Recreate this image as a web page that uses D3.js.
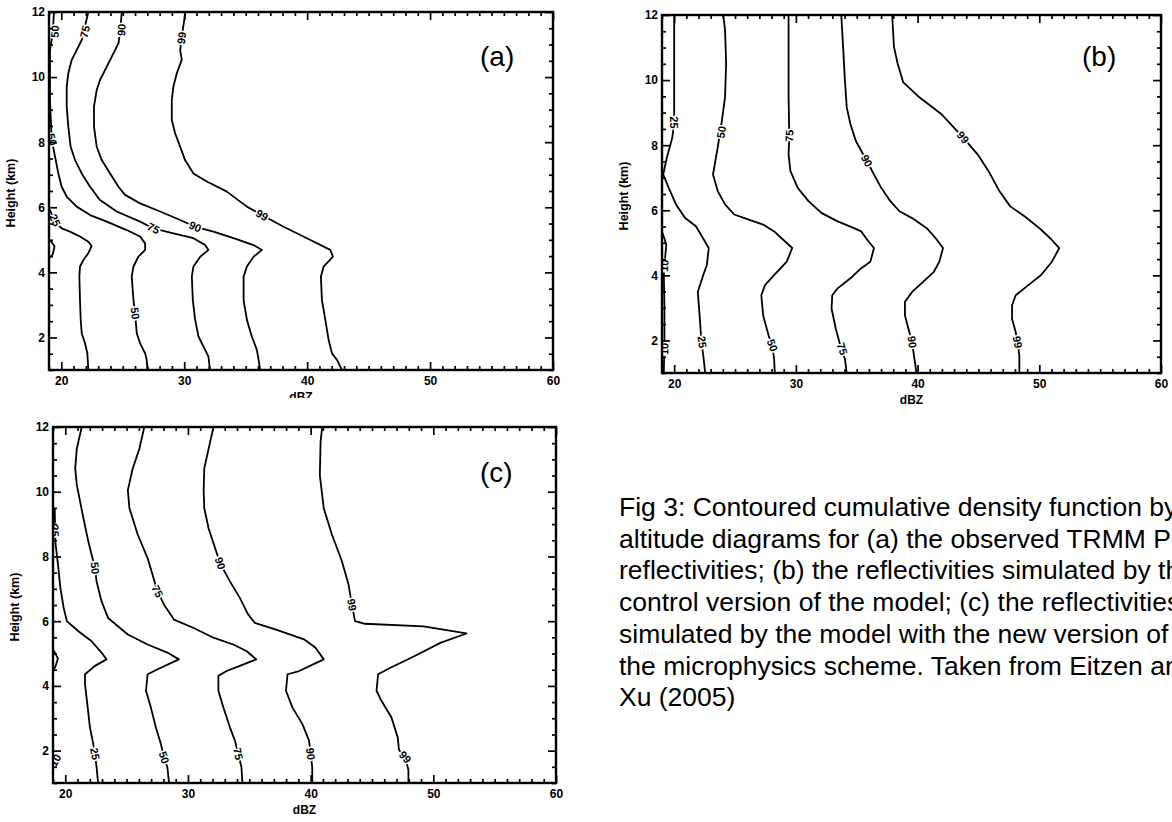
<!DOCTYPE html>
<html><head><meta charset="utf-8">
<script src="https://cdn.jsdelivr.net/npm/d3@7"></script>
<style>body{margin:0;background:#fff}svg{display:block}</style>
</head><body>
<svg id="chart" width="1172" height="822"></svg>
<script>
// ---------------- DATA (dBZ, height km) ----------------
const panelNames = ["(a)", "(b)", "(c)"];
const xMajorTicks = [20, 30, 40, 50, 60];
const yMajorTicks = [2, 4, 6, 8, 10, 12];
const xTitle = "dBZ";
const yTitle = "Height (km)";

// Panel (a): observed TRMM PR
const a10 = [[19.08,5.0],[19.45,4.8],[19.3,4.55],[19.08,4.45]];
const a25 = [[19.08,5.92],[19.49,5.56],[20.03,5.35],[20.71,5.25],[21.52,5.10],[22.2,4.94],[22.47,4.81],[22.2,4.59],[21.8,4.38],[21.52,4.18],[21.47,3.87],[21.52,3.15],[21.58,2.54],[21.66,2.13],[21.93,1.82],[22.12,1.51],[22.2,1.0]];
const a50 = [[19.41,12],[19.3,11.35],[19.08,10.83],[19.08,9.3],[19.22,8.07],[19.49,7.56],[19.76,7.04],[20.03,6.63],[20.44,6.33],[21.25,6.02],[22.34,5.76],[23.7,5.56],[25.32,5.30],[26.41,5.10],[26.82,4.89],[26.82,4.69],[26.27,4.48],[25.87,4.18],[25.73,3.87],[25.87,3.15],[26.0,2.74],[26.14,2.13],[26.41,1.82],[26.82,1.51],[26.95,1.31],[27.0,1.0]];
const a75 = [[22.2,12],[21.66,11.14],[21.25,10.83],[20.85,10.53],[20.57,10.12],[20.44,9.71],[20.44,9.09],[20.57,8.48],[20.76,7.86],[21.12,7.45],[21.66,7.04],[22.34,6.63],[23.15,6.22],[24.51,5.87],[26.41,5.56],[27.5,5.35],[29.12,5.20],[30.75,5.05],[31.7,4.84],[31.97,4.69],[31.3,4.48],[30.75,4.18],[30.62,3.87],[30.70,3.15],[30.89,2.54],[31.16,2.03],[31.57,1.72],[31.97,1.41],[32.1,1.0]];
const a90 = [[24.92,12],[24.78,11.35],[24.65,11.04],[24.24,10.73],[23.7,10.32],[23.15,9.91],[22.88,9.60],[22.66,9.09],[22.66,8.48],[22.88,7.86],[23.29,7.45],[23.97,7.04],[24.65,6.63],[25.19,6.38],[26.41,6.12],[28.04,5.87],[29.67,5.61],[30.89,5.40],[32.38,5.25],[34.01,5.05],[35.64,4.84],[36.32,4.69],[35.64,4.48],[35.1,4.18],[34.83,3.87],[34.83,3.15],[35.1,2.54],[35.5,2.03],[35.91,1.62],[36.05,1.31],[36.18,1.0]];
const a99 = [[30.1,12],[29.88,11.45],[29.67,10.83],[29.8,10.53],[29.4,10.12],[29.12,9.71],[28.99,9.30],[28.99,8.68],[29.26,8.27],[29.67,7.86],[30.07,7.45],[30.75,7.04],[31.84,6.79],[33.47,6.48],[35.1,6.02],[36.32,5.76],[38.08,5.40],[39.98,5.05],[41.88,4.69],[42.1,4.48],[41.34,4.18],[41.12,3.87],[41.2,3.15],[41.48,2.54],[41.75,1.92],[42.02,1.51],[42.43,1.31],[42.83,1.0]];
const aLabels = [["50",19.49,11.4,2],["75",21.93,11.4,3],["90",24.9,11.45,4],["99",29.8,11.2,5],["50",19.22,8.08,2],["25",19.49,5.6,1],["75",27.5,5.35,3],["90",30.89,5.40,4],["99",36.32,5.76,5],["50",26.0,2.74,2]];

// Panel (b): control model
const b10 = [[19.05,5.3],[19.35,4.95],[19.25,4.5],[19.15,4.0],[19.2,3.0],[19.2,2.0],[19.15,1.0]];
const b25 = [[20.0,12],[20.0,9.99],[20.0,9.16],[20.0,8.70],[19.85,8.24],[19.70,8.03],[19.40,7.62],[19.10,7.10],[19.55,6.69],[20.15,6.18],[20.9,5.76],[21.79,5.51],[22.84,4.84],[22.69,4.32],[22.39,4.01],[21.94,3.49],[22.09,2.77],[22.24,1.95],[22.39,1.54],[22.55,1.0]];
const b50 = [[24.03,12],[24.18,11.54],[24.27,10.51],[24.18,9.47],[23.88,8.65],[23.58,7.93],[23.19,7.10],[23.58,6.59],[24.18,6.18],[24.93,5.87],[26.12,5.71],[27.31,5.56],[28.21,5.35],[29.7,4.84],[29.25,4.42],[28.21,4.01],[27.46,3.70],[27.16,3.39],[27.31,2.77],[27.76,2.15],[28.06,1.85],[28.21,1.43],[28.27,1.0]];
const b75 = [[29.4,12],[29.4,11.02],[29.4,9.47],[29.46,8.29],[29.4,7.72],[29.55,7.21],[30.15,6.69],[31.04,6.28],[32.09,5.92],[33.43,5.66],[34.78,5.45],[35.37,5.35],[35.97,5.04],[36.42,4.84],[36.12,4.42],[35.37,4.22],[34.48,3.91],[33.43,3.60],[32.99,3.39],[32.93,2.98],[33.28,2.36],[33.73,1.74],[34.03,1.43],[34.18,1.0]];
const b90 = [[33.73,12],[33.88,11.02],[34.03,9.99],[34.18,9.16],[34.48,8.65],[34.93,8.13],[35.82,7.52],[36.42,7.10],[37.01,6.69],[37.76,6.28],[38.51,5.97],[39.55,5.76],[40.75,5.45],[41.49,5.14],[42.09,4.84],[41.79,4.42],[41.34,4.11],[40.45,3.80],[39.55,3.49],[38.96,3.19],[38.96,2.77],[39.25,2.36],[39.55,1.95],[39.7,1.54],[39.91,1.0]];
const b99 = [[37.91,12],[38.06,11.02],[38.36,10.51],[38.81,9.94],[40.15,9.47],[41.94,8.96],[43.73,8.24],[44.93,7.72],[45.82,7.21],[46.72,6.59],[47.61,6.12],[48.81,5.81],[50.0,5.45],[50.9,5.14],[51.64,4.84],[51.04,4.42],[50.15,4.01],[49.1,3.70],[48.06,3.39],[47.76,3.08],[47.76,2.67],[48.06,2.26],[48.21,1.95],[48.36,1.54],[48.36,1.0]];
const bLabels = [["25",20.0,8.7,1],["50",23.88,8.4,2],["75",29.46,8.29,3],["90",35.82,7.52,4],["99",43.73,8.24,5],["10",19.2,4.3,0],["10",19.2,1.74,0],["25",22.3,1.95,1],["50",28.06,1.85,2],["75",33.8,1.74,3],["90",39.55,1.95,4],["99",48.21,1.95,5]];

// Panel (c): new microphysics
const c10 = [[19.05,5.1],[19.4,4.85],[19.2,4.6],[19.05,4.5]];
const c25 = [[19.14,9.49],[19.19,8.46],[19.41,7.74],[19.6,7.03],[19.87,6.41],[20.13,6.0],[21.07,5.69],[22.15,5.38],[22.95,5.03],[23.36,4.82],[22.42,4.62],[21.61,4.36],[21.61,4.05],[21.83,3.33],[22.01,2.72],[22.28,2.21],[22.42,1.90],[22.55,1.49],[22.68,1.0]];
const c50 = [[21.34,12],[20.94,11.33],[20.81,10.72],[20.94,10.21],[21.48,9.18],[21.88,8.46],[22.42,7.64],[22.55,7.23],[22.95,6.62],[23.49,6.10],[25.1,5.59],[26.71,5.28],[28.32,5.03],[29.26,4.82],[27.79,4.56],[26.71,4.36],[26.58,3.85],[26.98,3.33],[27.38,2.72],[27.79,2.21],[28.05,1.79],[28.32,1.49],[28.46,1.0]];
const c75 = [[26.44,12],[26.04,11.33],[25.5,10.72],[25.1,10.05],[25.23,9.49],[25.91,8.67],[26.71,7.95],[27.52,6.92],[28.05,6.51],[28.86,6.05],[30.47,5.79],[32.08,5.49],[33.69,5.28],[34.77,5.08],[35.57,4.82],[34.23,4.62],[33.15,4.46],[32.48,4.31],[32.48,3.85],[32.89,3.33],[33.42,2.72],[33.83,2.31],[34.09,1.90],[34.36,1.49],[34.44,1.0]];
const c90 = [[32.08,12],[31.81,11.54],[31.33,10.72],[31.28,10.05],[31.33,9.49],[31.68,8.87],[32.21,8.26],[32.62,7.79],[33.42,7.23],[34.23,6.72],[34.9,6.21],[35.44,5.95],[37.18,5.74],[39.46,5.44],[40.4,5.18],[41.07,4.82],[39.06,4.46],[38.12,4.36],[37.99,3.85],[38.52,3.33],[39.33,2.82],[39.87,2.31],[40.0,1.90],[40.13,1.49],[40.13,1.0]];
const c99 = [[40.94,12],[40.81,11.54],[40.75,10.51],[41.07,9.49],[41.74,8.67],[42.55,7.85],[43.09,7.13],[43.36,6.51],[43.62,6.0],[44.43,5.92],[49.2,5.84],[52.7,5.62],[50.57,5.33],[48.4,4.91],[46.5,4.56],[45.5,4.36],[45.37,3.85],[45.77,3.54],[46.58,3.03],[47.1,2.41],[47.2,2.02],[47.7,1.81],[47.97,1.40],[47.97,1.0]];
const cLabels = [["25",19.15,8.8,1],["50",22.42,7.64,2],["75",27.52,6.92,3],["90",32.62,7.79,4],["99",43.36,6.51,5],["10",19.2,1.7,0],["25",22.42,1.9,1],["50",28.05,1.79,2],["75",34.09,1.9,3],["90",40.0,1.9,4],["99",47.7,1.8,5]];

const captionLines = [
  "Fig 3: Contoured cumulative density function by",
  "altitude diagrams for (a) the observed TRMM PR",
  "reflectivities; (b) the reflectivities simulated by the",
  "control version of the model; (c) the reflectivities",
  "simulated by the model with the new version of",
  "the microphysics scheme. Taken from Eitzen and",
  "Xu (2005)"
];

// ---------------- LAYOUT ----------------
const panels = [
  {name: panelNames[0], left: 49, right: 553, top: 12, bottom: 370, series: [a10,a25,a50,a75,a90,a99], labels: aLabels, tag: [480, 66], titleCut: 398},
  {name: panelNames[1], left: 662, right: 1161, top: 15, bottom: 373, series: [b10,b25,b50,b75,b90,b99], labels: bLabels, tag: [1082, 66]},
  {name: panelNames[2], left: 53, right: 556, top: 427, bottom: 783, series: [c10,c25,c50,c75,c90,c99], labels: cLabels, tag: [480, 482]}
];

const svg = d3.select("#chart");
svg.append("rect").attr("width", 1172).attr("height", 822).attr("fill", "#fff");
const FONT = "'Liberation Sans', Arial, Helvetica, sans-serif";

function range(a, b, s) { const r = []; for (let v = a; v <= b + 1e-9; v += s) r.push(+v.toFixed(3)); return r; }

panels.forEach((p, pi) => {
  const x = d3.scaleLinear().domain([19, 60]).range([p.left, p.right]);
  const y = d3.scaleLinear().domain([1, 12]).range([p.bottom, p.top]);
  const g = svg.append("g");
  const clipId = "clip" + pi;
  svg.append("clipPath").attr("id", clipId).append("rect")
    .attr("x", p.left).attr("y", p.top).attr("width", p.right - p.left).attr("height", p.bottom - p.top);

  // contour lines
  const line = d3.line().x(d => x(d[0])).y(d => y(d[1]));
  const lg = g.append("g").attr("clip-path", `url(#${clipId})`);
  p.series.forEach(s => {
    lg.append("path").attr("d", line(s)).attr("fill", "none")
      .attr("stroke", "#000").attr("stroke-width", 1.8).attr("stroke-linejoin", "round");
  });

  // contour labels
  p.labels.forEach(([t, dx, dh, si]) => {
    const s = p.series[si];
    const px = x(dx), py = y(dh);
    let best = 1e9, ang = 90;
    for (let i = 0; i < s.length - 1; i++) {
      const x1 = x(s[i][0]), y1 = y(s[i][1]), x2 = x(s[i+1][0]), y2 = y(s[i+1][1]);
      const mx = (x1 + x2) / 2, my = (y1 + y2) / 2;
      const dd = (mx - px) ** 2 + (my - py) ** 2;
      if (dd < best) { best = dd; ang = Math.atan2(y2 - y1, x2 - x1) * 180 / Math.PI; }
    }
    if (ang > 90) ang -= 180;
    if (ang < -90) ang += 180;
    lg.append("text").attr("transform", `translate(${px},${py}) rotate(${ang})`)
      .attr("text-anchor", "middle").attr("dy", "0.35em")
      .attr("font-family", FONT).attr("font-weight", "bold").attr("font-size", 11)
      .attr("stroke", "#fff").attr("stroke-width", 3).attr("paint-order", "stroke")
      .attr("fill", "#000").text(t);
  });

  // axes (inward ticks)
  const xMinor = range(19, 60, 1).filter(v => !xMajorTicks.includes(v));
  const yMinor = range(1, 12, 0.5).filter(v => !yMajorTicks.includes(v));
  const style = sel => { sel.select(".domain").remove(); sel.selectAll("line").attr("stroke", "#000").attr("stroke-width", 1.7); };

  g.append("g").attr("transform", `translate(0,${p.bottom})`)
    .call(d3.axisBottom(x).tickValues(xMajorTicks).tickSize(-8).tickPadding(6).tickFormat(d3.format("d")))
    .call(style)
    .call(s => s.selectAll("text").attr("font-family", FONT).attr("font-weight", "bold").attr("font-size", 12).attr("fill", "#000"));
  g.append("g").attr("transform", `translate(0,${p.bottom})`)
    .call(d3.axisBottom(x).tickValues(xMinor).tickSize(-4).tickFormat("")).call(style);
  g.append("g").attr("transform", `translate(0,${p.top})`)
    .call(d3.axisTop(x).tickValues(xMajorTicks).tickSize(-8).tickFormat("")).call(style);
  g.append("g").attr("transform", `translate(0,${p.top})`)
    .call(d3.axisTop(x).tickValues(xMinor).tickSize(-4).tickFormat("")).call(style);

  g.append("g").attr("transform", `translate(${p.left},0)`)
    .call(d3.axisLeft(y).tickValues(yMajorTicks).tickSize(-8).tickPadding(4).tickFormat(d3.format("d")))
    .call(style)
    .call(s => s.selectAll("text").attr("font-family", FONT).attr("font-weight", "bold").attr("font-size", 12).attr("fill", "#000"));
  g.append("g").attr("transform", `translate(${p.left},0)`)
    .call(d3.axisLeft(y).tickValues(yMinor).tickSize(-4).tickFormat("")).call(style);
  g.append("g").attr("transform", `translate(${p.right},0)`)
    .call(d3.axisRight(y).tickValues(yMajorTicks).tickSize(-8).tickFormat("")).call(style);
  g.append("g").attr("transform", `translate(${p.right},0)`)
    .call(d3.axisRight(y).tickValues(yMinor).tickSize(-4).tickFormat("")).call(style);

  // frame
  g.append("rect").attr("x", p.left).attr("y", p.top)
    .attr("width", p.right - p.left).attr("height", p.bottom - p.top)
    .attr("fill", "none").attr("stroke", "#000").attr("stroke-width", 2.4);

  // titles (panel (a)'s x title is cropped in the source figure)
  const tg = g.append("g");
  if (p.titleCut) {
    const cid = "tclip" + pi;
    svg.append("clipPath").attr("id", cid).append("rect")
      .attr("x", p.left).attr("y", p.bottom).attr("width", p.right - p.left).attr("height", p.titleCut - p.bottom);
    tg.attr("clip-path", `url(#${cid})`);
  }
  tg.append("text").attr("x", (p.left + p.right) / 2).attr("y", p.bottom + 31)
    .attr("text-anchor", "middle").attr("font-family", FONT).attr("font-weight", "bold").attr("font-size", 12)
    .text(xTitle);
  g.append("text").attr("transform", `translate(${p.left - 34},${(p.top + p.bottom) / 2 + 2}) rotate(-90)`)
    .attr("text-anchor", "middle").attr("font-family", FONT).attr("font-weight", "bold").attr("font-size", 12.5)
    .text(yTitle);

  // panel tag
  g.append("text").attr("x", p.tag[0]).attr("y", p.tag[1])
    .attr("font-family", FONT).attr("font-size", 28).attr("fill", "#000").text(p.name);
});

// caption
const cap = svg.append("text").attr("font-family", FONT).attr("font-size", 26.5).attr("fill", "#000");
captionLines.forEach((t, i) => {
  cap.append("tspan").attr("x", 619).attr("y", 516 + i * 31.7).text(t);
});
</script>
</body></html>
